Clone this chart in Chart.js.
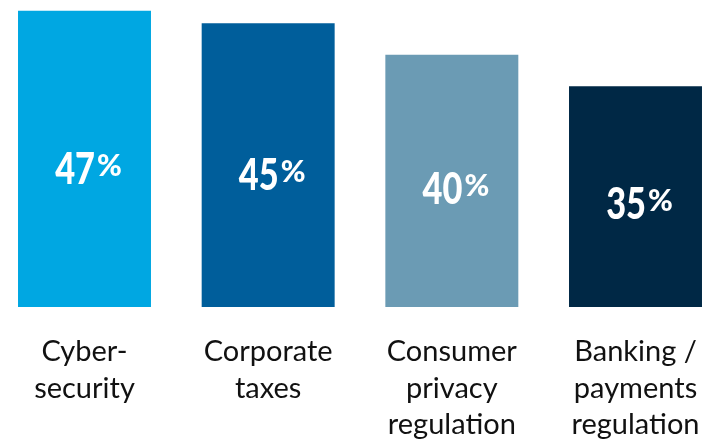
<!DOCTYPE html>
<html>
<head>
<meta charset="utf-8">
<script src="https://cdn.jsdelivr.net/npm/chart.js@4"></script>
<style>
  html, body { margin: 0; padding: 0; background: #fff; }
  #wrap { width: 709px; height: 448px; }
</style>
</head>
<body>
<div id="wrap"><canvas id="myChart"></canvas></div>
<script>
const categories = [['Cyber-', 'security'], ['Corporate', 'taxes'], ['Consumer', 'privacy', 'regulation'], ['Banking /', 'payments', 'regulation']]
const shares = [47, 45, 40, 35]
const barColors = ['#00a7e2', '#005e9b', '#6b9bb4', '#002845']

const numFont = 'Lato, sans-serif'

// white value inside each bar; digits squeezed a little, the % smaller and hung from their top
const valueLabels = {
  id: 'valueLabels',
  afterDatasetsDraw(chart) {
    const ctx = chart.ctx
    const squeeze = 0.8
    chart.getDatasetMeta(0).data.forEach((bar, i) => {
      const num = String(shares[i])
      const mid = bar.y + (bar.base - bar.y) * 0.53
      ctx.save()
      ctx.fillStyle = '#fff'
      ctx.textBaseline = 'alphabetic'
      ctx.textAlign = 'left'
      ctx.font = '900 43px ' + numFont
      const m = ctx.measureText(num)
      const nw = m.width * squeeze
      const nh = m.actualBoundingBoxAscent
      ctx.font = '900 30px ' + numFont
      const p = ctx.measureText('%')
      const gap = 2
      const x0 = bar.x + 4 - (nw + gap + p.width) / 2
      const base = mid + nh / 2
      ctx.save()
      ctx.translate(x0, base)
      ctx.scale(squeeze, 1)
      ctx.font = '900 43px ' + numFont
      ctx.fillText(num, 0, 0)
      ctx.restore()
      ctx.font = '900 30px ' + numFont
      ctx.fillText('%', x0 + nw + gap, base - nh + 2 + p.actualBoundingBoxAscent)
      ctx.restore()
    })
  }
}

new Chart('myChart', {
  type: 'bar',
  data: {
    labels: categories,
    datasets: [{
      data: shares,
      backgroundColor: barColors,
      borderWidth: 0,
      categoryPercentage: 1,
      barPercentage: 0.724,
      clip: false
    }]
  },
  options: {
    responsive: true,
    maintainAspectRatio: false,
    animation: false,
    layout: { padding: { left: 84.5, right: 73.5, top: 0, bottom: 0 } },
    plugins: {
      legend: { display: false },
      tooltip: { enabled: false }
    },
    scales: {
      x: {
        offset: false,
        grid: { display: false, drawTicks: false },
        border: { display: false },
        ticks: {
          color: '#111',
          padding: 26.5,
          maxRotation: 0,
          autoSkip: false,
          font: { family: 'Lato', size: 29, lineHeight: 36.5 / 29 }
        },
        afterFit(scale) {
          // fixed axis band; end labels may overhang the plot edges
          scale.height = 141
          scale.paddingLeft = 0
          scale.paddingRight = 0
        }
      },
      y: {
        display: false,
        min: 0,
        max: 48.7
      }
    }
  },
  plugins: [valueLabels]
})
</script>
</body>
</html>
